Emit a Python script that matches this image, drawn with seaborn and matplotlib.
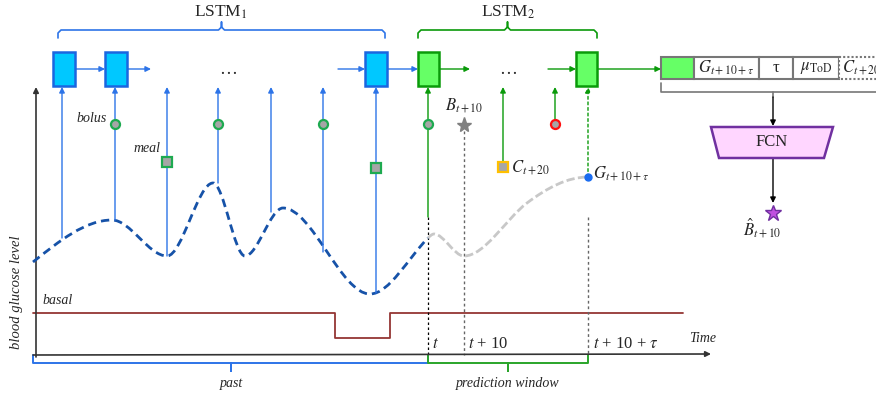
import matplotlib
matplotlib.use("Agg")
import matplotlib.pyplot as plt
from matplotlib.path import Path
from matplotlib.patches import PathPatch, Rectangle, Polygon
import seaborn as sns

# --- diagram data (pixel coordinates of the 876x396 canvas, y down) ---
glucose_past = [(33, 262, -0.8), (112, 220, 0), (167, 256, 0), (213, 183, 0),
                (245, 256, 0), (283, 208, 0), (370, 294, 0), (428, 238, -1.0)]
glucose_future = [(428, 238, -1.0), (434, 234, 0), (464, 256, 0),
                  (527, 203, -0.75), (588, 177, 0)]
basal_x = [33, 335, 390, 683]
basal_y = [313, 338, 313, 313]

lstm1_cells = [53, 105, 365]
lstm2_cells = [418, 576]
past_inputs_x = [62, 115, 167, 218, 271, 323, 376]
past_inputs_y = [238, 220, 256, 183, 212, 252, 293]
bolus_x = [115, 218, 323, 428]
meal_x = [167, 376]
meal_y = [162, 168]
blue_links = [(75, 105), (127, 151), (338, 365), (387, 418)]
green_links = [(438, 470), (548, 576), (598, 661)]

feature_edges = [661, 694, 759, 793, 839, 880]
feature_labels = ["", r"$G_{t+10+\tau}$", "τ", r"$\mu_{\mathrm{ToD}}$", r"$C_{t+20}$"]

BLUE = "#2D74E8"
CYAN = "#00C8FF"
GREEN = "#0A9A0A"
LGREEN = "#66FF66"
CURVE = "#1652A8"
BROWN = "#943634"
PURPLE = "#7030A0"

sns.set_theme(style="white")
plt.rcParams["font.family"] = ["Liberation Serif", "DejaVu Serif"]
plt.rcParams["mathtext.fontset"] = "stix"

fig = plt.figure(figsize=(8.76, 3.96), dpi=100)
ax = fig.add_axes([0, 0, 1, 1])
ax.set_xlim(0, 876)
ax.set_ylim(396, 0)
ax.axis("off")


def hermite_path(knots):
    verts = [knots[0][:2]]
    codes = [Path.MOVETO]
    for (x0, y0, m0), (x1, y1, m1) in zip(knots[:-1], knots[1:]):
        d = (x1 - x0) / 3
        verts += [(x0 + d, y0 + m0 * d), (x1 - d, y1 - m1 * d), (x1, y1)]
        codes += [Path.CURVE4] * 3
    return Path(verts, codes)


def arrow(x0, y0, x1, y1, color, ls="-", lw=1.0, ms=8):
    ax.annotate("", xy=(x1, y1), xytext=(x0, y0),
                arrowprops=dict(arrowstyle="-|>", color=color, lw=lw, ls=ls,
                                mutation_scale=ms, shrinkA=0, shrinkB=0))


# axes of the sketch
arrow(36, 357, 36, 87, "#333333", lw=1.2)
arrow(33, 355, 711, 354, "#333333", lw=1.2)
ax.text(17, 292, "blood glucose level", rotation=90, ha="center", va="center",
        fontsize=10.5, style="italic")
ax.text(689, 339, "Time", fontsize=10, style="italic", va="center")

# glucose curves
ax.add_patch(PathPatch(hermite_path(glucose_past), fill=False, ec=CURVE,
                       lw=2.0, ls=(0, (3, 1.8)), zorder=3))
ax.add_patch(PathPatch(hermite_path(glucose_future), fill=False, ec="#C8C8C8",
                       lw=2.0, ls=(0, (3, 1.2)), zorder=3))

# basal insulin
sns.lineplot(x=basal_x, y=basal_y, drawstyle="steps-post", sort=False,
             estimator=None, color=BROWN, lw=1.3, ax=ax)
ax.text(42, 301, "basal", fontsize=10, style="italic", va="center")

# time markers
ax.plot([428, 428], [217, 355], color="black", lw=0.9, ls=(0, (2, 2)))
ax.plot([464, 464], [131, 355], color="#666666", lw=1.0, ls=(0, (2, 2)))
ax.plot([588, 588], [217, 355], color="#666666", lw=1.0, ls=(0, (2, 2)))
ax.text(432, 344, r"$t$", fontsize=12, va="center")
ax.text(468, 344, r"$t$ + 10", fontsize=12, va="center")
ax.text(593, 344, r"$t$ + 10 + $\tau$", fontsize=12, va="center")

# LSTM cells and recurrent links
for x in lstm1_cells:
    ax.add_patch(Rectangle((x, 52), 22, 34, fc=CYAN, ec="#1A66E0", lw=1.8, zorder=4))
for x in lstm2_cells:
    ax.add_patch(Rectangle((x, 52), 21, 34, fc=LGREEN, ec=GREEN, lw=1.8, zorder=4))
for x0, x1 in blue_links:
    arrow(x0, 69, x1, 69, BLUE)
for x0, x1 in green_links:
    arrow(x0, 69, x1, 69, GREEN)
ax.text(228, 70, "…", ha="center", va="center", fontsize=13)
ax.text(508, 70, "…", ha="center", va="center", fontsize=13)

# inputs to the LSTMs
for x, y in zip(past_inputs_x, past_inputs_y):
    arrow(x, y, x, 87, BLUE)
arrow(428, 217, 428, 87, GREEN)
arrow(503, 167, 503, 87, GREEN)
arrow(555, 124, 555, 87, GREEN)
arrow(588, 177, 588, 87, GREEN, ls=(0, (2, 2)))

# events
ax.plot(bolus_x, [124] * len(bolus_x), "o", ms=6.5, mfc="#A6A6A6", mec="#1EAA50",
        mew=1.6, zorder=5)
ax.plot([555], [124], "o", ms=6.5, mfc="#A6A6A6", mec="#FF1010", mew=1.6, zorder=5)
ax.plot(meal_x, meal_y, "s", ms=6.5, mfc="#A6A6A6", mec="#1EAA50", mew=1.6, zorder=5)
ax.plot([503], [167], "s", ms=7, mfc="#A6A6A6", mec="#FFC000", mew=1.6, zorder=5)
ax.plot([464], [125], "*", ms=11, color="#808080", zorder=5)
ax.plot([588], [177], "o", ms=5, color="#1A6CF0", zorder=5)
ax.text(107, 118, "bolus", ha="right", va="center", fontsize=10, style="italic")
ax.text(160, 149, "meal", ha="right", va="center", fontsize=10, style="italic")
ax.text(464, 106, r"$B_{t+10}$", ha="center", va="center", fontsize=12)
ax.text(511, 168, r"$C_{t+20}$", va="center", fontsize=12)
ax.text(593, 174, r"$G_{t+10+\tau}$", va="center", fontsize=12)

# braces
def top_brace(x0, x1, color):
    xc = (x0 + x1) / 2
    ax.plot([x0, x0, x0 + 3, xc - 3, xc, xc, xc, xc + 3, x1 - 3, x1, x1],
            [38, 33, 30, 30, 27, 22, 27, 30, 30, 33, 38], color=color, lw=1.2)


def bottom_brace(x0, x1, color):
    xc = (x0 + x1) / 2
    ax.plot([x0, x0, xc, xc, xc, x1, x1],
            [355, 363, 363, 371, 363, 363, 355], color=color, lw=1.4)


top_brace(58, 385, BLUE)
top_brace(418, 597, GREEN)
ax.text(221, 12, r"LSTM$_{\mathrm{1}}$", ha="center", va="center", fontsize=12.5)
ax.text(508, 12, r"LSTM$_{\mathrm{2}}$", ha="center", va="center", fontsize=12.5)
bottom_brace(33, 428, BLUE)
bottom_brace(428, 588, "#2AA52A")
ax.text(231, 383, "past", ha="center", va="center", fontsize=10, style="italic")
ax.text(508, 383, "prediction window", ha="center", va="center", fontsize=10,
        style="italic")

# concatenated feature vector
for i, lab in enumerate(feature_labels):
    x0, x1 = feature_edges[i], feature_edges[i + 1]
    last = i == len(feature_labels) - 1
    ax.add_patch(Rectangle((x0, 57), x1 - x0, 22, fc=LGREEN if i == 0 else "white",
                           ec="#777777", lw=1.5, ls=(0, (1, 1)) if last else "-",
                           zorder=4))
    if lab:
        ha = "left" if last else "center"
        xt = x0 + 3 if last else (x0 + x1) / 2
        ax.text(xt, 68, lab, ha=ha, va="center", fontsize=12, zorder=5)
ax.plot([661, 661, 876], [83, 92, 92], color="#777777", lw=1.2)
ax.plot([773, 773], [92, 97], color="#777777", lw=1.2)
arrow(773, 97, 773, 126, "black")

# fully connected head
ax.add_patch(Polygon([(711, 127), (833, 127), (824, 158), (719, 158)],
                     closed=True, fc="#FFD6FF", ec=PURPLE, lw=1.8, zorder=4))
ax.text(772, 142, "FCN", ha="center", va="center", fontsize=12, zorder=5)
arrow(773, 158, 773, 203, "black")
ax.plot([773], [213], "*", ms=12, mfc="#C050E0", mec=PURPLE, mew=1.0, zorder=5)
ax.text(762, 228, r"$\hat{B}_{t+10}$", ha="center", va="center", fontsize=12)

fig.savefig("out.png", dpi=100)
